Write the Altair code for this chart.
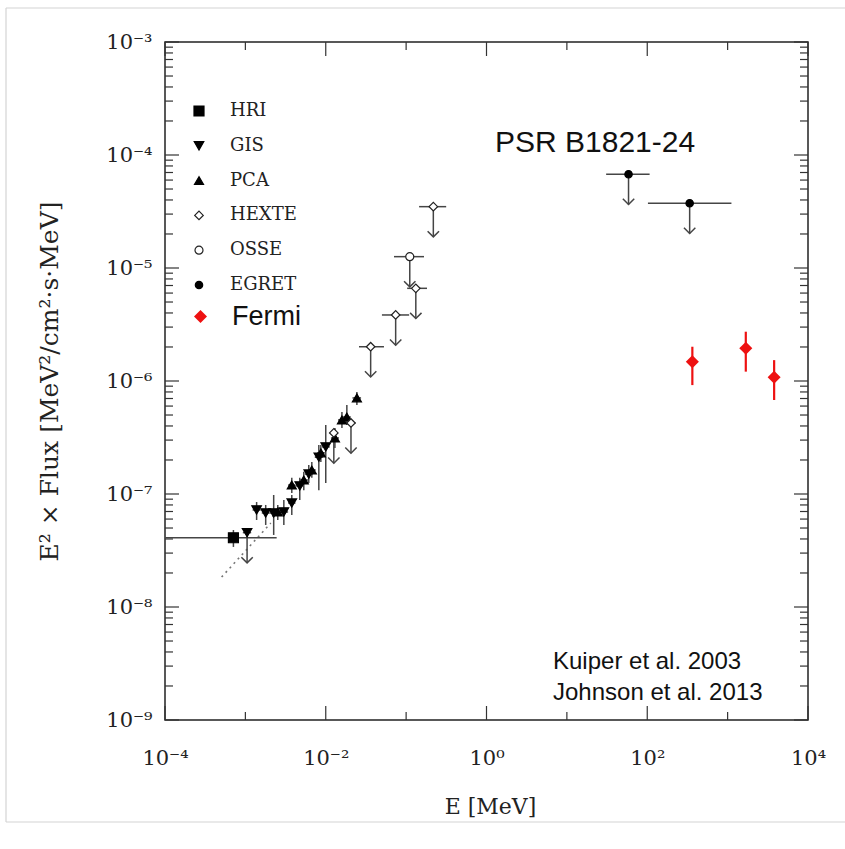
import altair as alt
import pandas as pd

# ---------------- data ----------------
INSTRUMENTS = ["HRI", "GIS", "PCA", "HEXTE", "OSSE", "EGRET"]

# HRI
hri_E = [7.1e-4]; hri_F = [4.1e-8]
hri_Elo = [1.0e-4]; hri_Ehi = [2.45e-3]
hri_Flo = [3.4e-8]; hri_Fhi = [4.8e-8]

# ASCA GIS detections
gis_E = [1.38e-3, 1.79e-3, 2.25e-3, 3.01e-3, 3.78e-3, 4.75e-3, 6.15e-3, 8.20e-3, 1.00e-2]
gis_F = [7.22e-8, 6.79e-8, 6.79e-8, 6.93e-8, 8.32e-8, 1.18e-7, 1.50e-7, 2.12e-7, 2.61e-7]
gis_Elo = [1.23e-3, 1.60e-3, 2.00e-3, 2.70e-3, 3.40e-3, 4.20e-3, 5.50e-3, 7.30e-3, 9.00e-3]
gis_Ehi = [1.55e-3, 2.00e-3, 2.50e-3, 3.40e-3, 4.20e-3, 5.30e-3, 6.90e-3, 9.20e-3, 1.12e-2]
gis_Flo = [5.89e-8, 5.32e-8, 4.34e-8, 5.32e-8, 6.52e-8, 8.85e-8, 1.25e-7, 1.08e-7, 1.25e-7]
gis_Fhi = [8.49e-8, 8.00e-8, 9.80e-8, 8.85e-8, 9.80e-8, 1.39e-7, 1.81e-7, 2.72e-7, 4.08e-7]
# GIS upper limit
gis_ul_E = [1.05e-3]; gis_ul_F = [4.55e-8]; gis_ul_Elo = [0.93e-3]; gis_ul_Ehi = [1.18e-3]

# RXTE PCA
pca_E = [2.53e-3, 3.78e-3, 5.33e-3, 6.71e-3, 8.69e-3, 1.30e-2, 1.59e-2, 1.83e-2, 2.44e-2]
pca_F = [6.93e-8, 1.20e-7, 1.33e-7, 1.63e-7, 2.31e-7, 3.13e-7, 4.52e-7, 4.80e-7, 7.08e-7]
pca_Elo = [2.25e-3, 3.40e-3, 4.75e-3, 6.00e-3, 7.80e-3, 1.16e-2, 1.42e-2, 1.63e-2, 2.15e-2]
pca_Ehi = [2.85e-3, 4.20e-3, 6.00e-3, 7.50e-3, 9.70e-3, 1.46e-2, 1.78e-2, 2.05e-2, 2.75e-2]
pca_Flo = [5.89e-8, 1.02e-7, 1.08e-7, 1.39e-7, 1.92e-7, 2.55e-7, 3.84e-7, 4.08e-7, 6.14e-7]
pca_Fhi = [8.00e-8, 1.39e-7, 1.57e-7, 1.92e-7, 2.72e-7, 3.84e-7, 5.32e-7, 6.14e-7, 8.00e-7]

# RXTE HEXTE upper limits
hexte_E = [1.26e-2, 2.06e-2, 3.62e-2, 7.41e-2, 0.132, 0.218]
hexte_F = [3.47e-7, 4.25e-7, 2.01e-6, 3.84e-6, 6.61e-6, 3.49e-5]
hexte_Elo = [1.12e-2, 1.80e-2, 2.59e-2, 5.00e-2, 0.103, 0.145]
hexte_Ehi = [1.42e-2, 2.35e-2, 5.30e-2, 0.109, 0.182, 0.315]

# CGRO OSSE upper limit
osse_E = [0.111]; osse_F = [1.26e-5]; osse_Elo = [7.06e-2]; osse_Ehi = [0.167]

# CGRO EGRET upper limits
egret_E = [58.5, 337.0]; egret_F = [6.75e-5, 3.74e-5]
egret_Elo = [30.8, 102.0]; egret_Ehi = [107.0, 1115.0]

# Fermi LAT
fermi_E = [364.0, 1683.0, 3790.0]
fermi_F = [1.48e-6, 1.95e-6, 1.08e-6]
fermi_Flo = [9.2e-7, 1.21e-6, 6.79e-7]
fermi_Fhi = [2.01e-6, 2.73e-6, 1.53e-6]

# dotted power-law extrapolation (end points)
pl_E = [5.06e-4, 2.07e-3]
pl_F = [1.84e-8, 5.53e-8]

# axis ticks
x_major = [1e-4, 1e-2, 1e0, 1e2, 1e4]
x_minor = [1e-3, 1e-1, 1e1, 1e3]
y_major = [1e-9, 1e-8, 1e-7, 1e-6, 1e-5, 1e-4, 1e-3]
y_minor = [m * 10.0 ** k for k in range(-9, -3) for m in range(2, 10)]

# ---------------- tables ----------------
rows = []


def add(inst, E, F, Elo=None, Ehi=None, Flo=None, Fhi=None, ul=False):
    for i in range(len(E)):
        rows.append(dict(
            inst=inst, E=E[i], F=F[i],
            E_lo=Elo[i] if Elo else None, E_hi=Ehi[i] if Ehi else None,
            F_lo=Flo[i] if Flo else None, F_hi=Fhi[i] if Fhi else None,
            ul=ul))


add("HRI", hri_E, hri_F, hri_Elo, hri_Ehi, hri_Flo, hri_Fhi)
add("GIS", gis_E, gis_F, gis_Elo, gis_Ehi, gis_Flo, gis_Fhi)
add("GIS", gis_ul_E, gis_ul_F, gis_ul_Elo, gis_ul_Ehi, ul=True)
add("PCA", pca_E, pca_F, pca_Elo, pca_Ehi, pca_Flo, pca_Fhi)
add("HEXTE", hexte_E, hexte_F, hexte_Elo, hexte_Ehi, ul=True)
add("OSSE", osse_E, osse_F, osse_Elo, osse_Ehi, ul=True)
add("EGRET", egret_E, egret_F, egret_Elo, egret_Ehi, ul=True)
df = pd.DataFrame(rows)

fermi = pd.DataFrame(dict(src="Fermi", E=fermi_E, F=fermi_F, F_lo=fermi_Flo, F_hi=fermi_Fhi))
pl = pd.DataFrame(dict(E=pl_E, F=pl_F))
xt_major = pd.DataFrame(dict(E=x_major))
xt_minor = pd.DataFrame(dict(E=x_minor))
yt_major = pd.DataFrame(dict(F=y_major))
yt_minor = pd.DataFrame(dict(F=y_minor))

# ---------------- layout / style ----------------
W, H = 643, 678
SERIF = "DejaVu Serif"
SANS = "Liberation Sans"
GREY = "#454545"
RED = "#ee1111"

sup = "['⁰','¹','²','³','⁴','⁵','⁶','⁷','⁸','⁹']"
lab_expr = ("'10' + (round(log(datum.value)/LN10) < 0 ? '⁻' : '') + "
            + sup + "[abs(round(log(datum.value)/LN10))]")

xscale = alt.Scale(type="log", domain=[1e-4, 1e4], nice=False)
yscale = alt.Scale(type="log", domain=[1e-9, 1e-3], nice=False)

xaxis = alt.Axis(values=x_major, labelExpr=lab_expr, grid=False, ticks=False, tickSize=0,
                 domain=False, labelFont=SERIF, labelFontSize=21, labelColor="#222",
                 labelPadding=27, labelFlush=False, labelOverlap=False,
                 title="E [MeV]", titleFont=SERIF, titleFontSize=22, titleFontWeight="normal",
                 titleColor="#222", titleX=325, titleY=86, titleBaseline="middle",
                 titleAlign="center")
yaxis = alt.Axis(values=y_major, labelExpr=lab_expr, grid=False, ticks=False, tickSize=0,
                 domain=False, labelFont=SERIF, labelFontSize=21, labelColor="#222",
                 labelPadding=13, labelFlush=False, labelOverlap=False,
                 title="E² × Flux [MeV²/cm²·s·MeV]", titleFont=SERIF, titleFontSize=25,
                 titleFontWeight="normal", titleColor="#222", titleX=-116, titleY=339,
                 titleAngle=270, titleAlign="center", titleBaseline="middle")


def X(field="E"):
    return alt.X(f"{field}:Q", scale=xscale, axis=xaxis)


def Y(field="F"):
    return alt.Y(f"{field}:Q", scale=yscale, axis=yaxis)


TICK = dict(color="#333", strokeWidth=1.2)
MAJ, MIN = 14, 8

ticks = alt.layer(
    alt.Chart(xt_major).mark_rule(**TICK).encode(x=X(), y=alt.value(H), y2=alt.value(H - MAJ)),
    alt.Chart(xt_major).mark_rule(**TICK).encode(x=X(), y=alt.value(0), y2=alt.value(MAJ)),
    alt.Chart(xt_minor).mark_rule(**TICK).encode(x=X(), y=alt.value(H), y2=alt.value(H - MIN)),
    alt.Chart(xt_minor).mark_rule(**TICK).encode(x=X(), y=alt.value(0), y2=alt.value(MIN)),
    alt.Chart(yt_major).mark_rule(**TICK).encode(y=Y(), x=alt.value(0), x2=alt.value(MAJ)),
    alt.Chart(yt_major).mark_rule(**TICK).encode(y=Y(), x=alt.value(W), x2=alt.value(W - MAJ)),
    alt.Chart(yt_minor).mark_rule(**TICK).encode(y=Y(), x=alt.value(0), x2=alt.value(MIN)),
    alt.Chart(yt_minor).mark_rule(**TICK).encode(y=Y(), x=alt.value(W), x2=alt.value(W - MIN)),
)

powerlaw = alt.Chart(pl).mark_line(color="#777", strokeWidth=1.6, strokeDash=[2, 4]).encode(
    x=X(), y=Y())

base = alt.Chart(df)
xerr = base.transform_filter("isValid(datum.E_lo)").mark_rule(color=GREY, strokeWidth=1.5).encode(
    x=X("E_lo"), x2="E_hi:Q", y=Y())
yerr = base.transform_filter("isValid(datum.F_lo)").mark_rule(color=GREY, strokeWidth=1.5).encode(
    x=X(), y=Y("F_lo"), y2="F_hi:Q")
ul_base = base.transform_filter("datum.ul").transform_calculate(F_tip="datum.F * 0.54")
ul_stem = ul_base.mark_rule(color=GREY, strokeWidth=1.5).encode(x=X(), y=Y(), y2="F_tip:Q")
ul_head = ul_base.mark_point(shape="M-1,-1L0,0L1,-1", filled=False, size=130, color=GREY,
                             strokeWidth=1.5, opacity=1).encode(x=X(), y=Y("F_tip"))

kuiper_legend = alt.Legend(orient="none", legendX=25, legendY=60, title=None, labelFont=SERIF,
                           labelFontSize=18, labelColor="#222", rowPadding=16.8, labelOffset=22,
                           symbolStrokeWidth=1.2, padding=0)
points = base.mark_point(filled=True, strokeWidth=1.2, opacity=1).encode(
    x=X(), y=Y(),
    shape=alt.Shape("inst:N", scale=alt.Scale(
        domain=INSTRUMENTS,
        range=["square", "triangle-down", "triangle-up", "diamond", "circle", "circle"]),
        legend=kuiper_legend),
    fill=alt.Fill("inst:N", scale=alt.Scale(
        domain=INSTRUMENTS, range=["black", "black", "black", "white", "white", "black"]),
        legend=kuiper_legend),
    stroke=alt.Stroke("inst:N", scale=alt.Scale(
        domain=INSTRUMENTS, range=["black", "black", "black", "#222", "#222", "black"]),
        legend=kuiper_legend),
    size=alt.Size("inst:N", scale=alt.Scale(
        domain=INSTRUMENTS, range=[100, 55, 55, 70, 70, 70]), legend=kuiper_legend),
)

fermi_err = alt.Chart(fermi).mark_rule(color=RED, strokeWidth=2.2).encode(
    x=X(), y=Y("F_lo"), y2="F_hi:Q")
fermi_pts = alt.Chart(fermi).mark_point(shape="diamond", filled=True, size=170, opacity=1).encode(
    x=X(), y=Y(),
    color=alt.Color("src:N", scale=alt.Scale(domain=["Fermi"], range=[RED]),
                    legend=alt.Legend(orient="none", legendX=22, legendY=261, title=None,
                                      labelFont=SANS, labelFontSize=27, labelColor="#111",
                                      symbolType="diamond", symbolSize=170, labelOffset=18,
                                      padding=0)))

texts = alt.layer(
    alt.Chart().mark_text(text="PSR B1821-24", font=SANS, fontSize=30, align="left",
                          baseline="middle", color="#111").encode(
        x=alt.value(330), y=alt.value(101)),
    alt.Chart().mark_text(text="Kuiper et al. 2003", font=SANS, fontSize=24, align="left",
                          baseline="middle", color="#111").encode(
        x=alt.value(388), y=alt.value(620)),
    alt.Chart().mark_text(text="Johnson et al. 2013", font=SANS, fontSize=24, align="left",
                          baseline="middle", color="#111").encode(
        x=alt.value(388), y=alt.value(651)),
)

BORDER = dict(color="#d4d4d4", strokeWidth=1.2)
frame = alt.layer(
    alt.Chart().mark_rule(**BORDER).encode(x=alt.value(-159), x2=alt.value(680), y=alt.value(-34)),
    alt.Chart().mark_rule(**BORDER).encode(x=alt.value(-159), y=alt.value(-34), y2=alt.value(780)),
    alt.Chart().mark_rule(**BORDER).encode(x=alt.value(-159), x2=alt.value(680), y=alt.value(780)),
)

chart = alt.layer(
    frame, ticks, powerlaw, xerr, yerr, ul_stem, ul_head, points, fermi_err, fermi_pts, texts
).properties(
    width=W, height=H,
    autosize=alt.AutoSizeParams(type="none"),
    padding={"left": 165, "top": 42, "right": 37, "bottom": 129},
    background="white",
).configure_view(stroke="#222", strokeWidth=1.5)

chart.save("out.html", embed_options={"renderer": "svg", "actions": False})
